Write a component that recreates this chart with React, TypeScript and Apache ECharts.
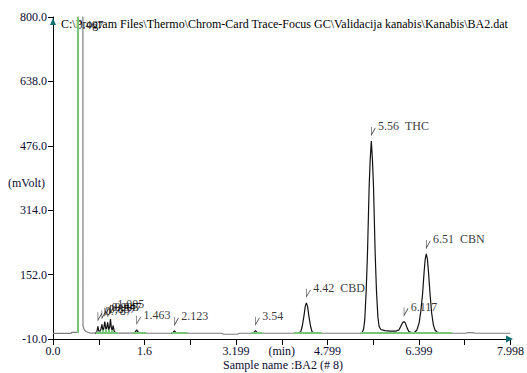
import React, { useEffect, useRef } from "react";
import * as echarts from "echarts";

const Y_OFFSET = 10;
const xTickLabels = ["0.0", "", "1.6", "", "3.199", "(min)", "4.799", "", "6.399", "", "7.998"];
const yTickLabels = ["-10.0", "152.0", "314.0", "476.0", "638.0", "800.0"];

const headerText = "C:\\Program Files\\Thermo\\Chrom-Card Trace-Focus GC\\Validacija kanabis\\Kanabis\\BA2.dat";
const sampleText = "Sample name :BA2 (# 8)";
const yUnitText = "(mVolt)";

// chromatogram trace [min, mVolt]
const trace: [number, number][] = [
  [0, 4], [0.32, 4], [0.325, 6.5], [0.436, 6.5], [0.437, 1200], [0.522, 1200], [0.524, 24], [0.54, 16], [0.555, 12], [0.58, 9], [0.61, 7], [0.64, 5.5], [0.7, 5], [0.75, 5],
  [0.765, 7], [0.785, 22], [0.8, 10], [0.82, 9], [0.84, 16], [0.855, 27], [0.87, 13], [0.885, 14], [0.905, 34], [0.925, 14], [0.94, 18], [0.955, 32], [0.975, 13], [0.99, 20], [1.005, 40], [1.02, 18], [1.035, 12], [1.05, 24], [1.07, 10], [1.09, 6], [1.12, 5], [1.3, 5],
  [1.42, 5], [1.445, 9], [1.463, 13], [1.48, 9], [1.51, 5],
  [1.9, 4.5], [2.08, 4.5], [2.1, 7], [2.123, 10], [2.145, 7], [2.17, 4.5],
  [2.95, 4.5], [2.98, 2], [3.22, 2], [3.26, 4.5],
  [3.49, 4.5], [3.52, 8], [3.54, 11], [3.56, 8], [3.59, 4.5],
  [4.28, 4.5], [4.33, 8], [4.357, 22], [4.386, 47], [4.41, 72], [4.43, 81], [4.45, 72], [4.474, 47], [4.503, 22], [4.53, 8], [4.57, 4.5],
  [5.38, 4.5], [5.41, 8], [5.43, 15], [5.45, 38], [5.475, 110], [5.498, 206], [5.527, 374], [5.545, 440], [5.565, 488], [5.585, 440], [5.603, 374], [5.632, 206], [5.655, 110], [5.68, 45], [5.7, 22], [5.73, 14], [5.8, 11], [5.9, 10], [6.0, 10], [6.05, 13],
  [6.08, 22], [6.11, 31], [6.137, 34], [6.16, 30], [6.19, 18], [6.22, 9], [6.27, 6], [6.32, 7],
  [6.36, 12], [6.4, 30], [6.43, 60], [6.459, 100], [6.486, 155], [6.506, 190], [6.526, 204], [6.546, 190], [6.566, 155], [6.593, 100], [6.62, 55], [6.65, 25], [6.68, 12], [6.72, 7], [6.8, 5],
  [7.2, 4.5], [7.27, 6], [7.33, 6], [7.4, 4.5], [7.998, 4.5],
];

// peak labels: retention time, apex value, text
const peakTimes = [0.467, 0.785, 0.855, 0.905, 0.955, 1.005, 1.463, 2.123, 3.54, 4.43, 5.565, 6.137, 6.526];
const peakApex = [1200, 22, 27, 34, 32, 40, 13, 10, 11, 81, 488, 34, 204];
const peakTexts = ["0.467", "0.787", "0.857", "0.905", "0.947", "1.005", "1.463", "2.123", "3.54", "4.42  CBD", "5.56  THC", "6.117", "6.51  CBN"];

// windows where the trace is drawn black (integrated peaks)
const peakWindows: [number, number][] = [[0.74, 1.12], [1.41, 1.52], [2.07, 2.18], [3.48, 3.6], [4.26, 4.6], [5.38, 6.82]];
// green integration baselines [from, to, level]
const baselineSegments: [number, number, number][] = [
  [0.75, 1.13, 5], [1.39, 1.635, 5], [2.07, 2.35, 5], [3.47, 3.66, 5], [4.22, 4.69, 5], [5.38, 6.98, 5],
];
// green drop lines [time, from, to]
const dropLines: [number, number, number][] = [
  [0.436, 5, 800], [0.82, 5, 9], [0.875, 5, 13], [0.925, 5, 14], [0.975, 5, 13], [1.035, 5, 12],
];

const FONT = "Liberation Serif";
const TEXT_COLOR = "#0c0c30";
const ARROW = "#11706f";

export default function App() {
  const ref = useRef<HTMLDivElement>(null);
  useEffect(() => {
    if (!ref.current) return;
    const chart = echarts.init(ref.current, null, { renderer: "svg" });
    const sh = (v: number) => v + Y_OFFSET;
    const greenLines: any[] = [];
    baselineSegments.forEach(([a, b, v]) => greenLines.push([{ coord: [a, sh(v)] }, { coord: [b, sh(v)] }]));
    dropLines.forEach(([t, a, b]) => greenLines.push([{ coord: [t, sh(a)] }, { coord: [t, sh(b)] }]));

    const labelData = peakTimes.map((t, i) => {
      const clipped = peakApex[i] > 800;
      const item: any = { value: [t, sh(clipped ? 745 : peakApex[i])], name: peakTexts[i] };
      if (clipped) {
        item.label = { offset: [-10, -4] };
        item.itemStyle = { borderColor: "transparent" };
      }
      return item;
    });

    chart.setOption({
      animation: false,
      backgroundColor: "#fff",
      grid: { left: 53, right: 15, top: 17, bottom: 34 },
      xAxis: {
        type: "value",
        min: 0,
        max: 7.998,
        interval: 0.7998,
        axisLine: { show: true, onZero: false, lineStyle: { color: "#000", width: 1 } },
        axisTick: { show: true, length: 6, lineStyle: { color: "#000" } },
        splitLine: { show: false },
        axisLabel: {
          margin: 6,
          showMinLabel: true,
          showMaxLabel: true,
          fontFamily: FONT,
          fontSize: 12,
          color: TEXT_COLOR,
          formatter: (_v: number, i: number) => xTickLabels[i] ?? "",
        },
      },
      yAxis: {
        type: "value",
        min: 0,
        max: 810,
        interval: 162,
        axisLine: { show: true, lineStyle: { color: "#000", width: 1 } },
        axisTick: { show: true, length: 5, lineStyle: { color: "#000" } },
        splitLine: { show: false },
        axisLabel: {
          margin: 6,
          fontFamily: FONT,
          fontSize: 12,
          color: TEXT_COLOR,
          formatter: (_v: number, i: number) => yTickLabels[i] ?? "",
        },
      },
      visualMap: {
        show: false,
        type: "piecewise",
        seriesIndex: 0,
        dimension: 0,
        pieces: peakWindows.map(([a, b]) => ({ gte: a, lte: b, color: "#111" })),
        outOfRange: { color: "#7d7d7d" },
      },
      series: [
        {
          type: "line",
          data: trace.map(([t, v]) => [t, sh(v)]),
          symbol: "none",
          lineStyle: { width: 1.2 },
          clip: true,
          silent: true,
          z: 2,
        },
        {
          type: "line",
          data: [],
          silent: true,
          markLine: {
            silent: true,
            symbol: ["none", "none"],
            label: { show: false },
            lineStyle: { color: "#78c478", width: 2, type: "solid" },
            data: greenLines,
          },
          z: 3,
        },
        {
          type: "scatter",
          data: labelData,
          symbol: "path://M0,0 L0,8 L4,1",
          symbolSize: [4, 8],
          symbolOffset: [2, -10],
          itemStyle: { color: "none", borderColor: "#111", borderWidth: 0.8 },
          silent: true,
          clip: false,
          z: 4,
          label: {
            show: true,
            formatter: "{b}",
            position: "right",
            distance: 1,
            offset: [0, -5],
            fontFamily: FONT,
            fontSize: 12,
            fontWeight: "normal",
            color: "#000",
          },
        },
      ],
      graphic: [
        {
          type: "text",
          x: 61,
          y: 24,
          style: { text: headerText, fontFamily: FONT, fontSize: 12, fill: "#000", verticalAlign: "middle" },
        },
        {
          type: "text",
          x: 8,
          y: 183,
          style: { text: yUnitText, fontFamily: FONT, fontSize: 12, fill: TEXT_COLOR, verticalAlign: "middle" },
        },
        {
          type: "text",
          x: 223,
          y: 365,
          style: { text: sampleText, fontFamily: FONT, fontSize: 12, fill: TEXT_COLOR, verticalAlign: "middle" },
        },
        {
          type: "polygon",
          shape: { points: [[50, 25], [56, 25], [53, 18]] },
          style: { fill: ARROW },
          z: 10,
        },
        {
          type: "polygon",
          shape: { points: [[506, 335.5], [506, 342.5], [513, 339]] },
          style: { fill: ARROW },
          z: 10,
        },
      ],
    });
    return () => chart.dispose();
  }, []);
  return (
    <div
      ref={ref}
      style={{ position: "fixed", left: 0, top: 0, width: 527, height: 373, background: "#fff" }}
    />
  );
}
